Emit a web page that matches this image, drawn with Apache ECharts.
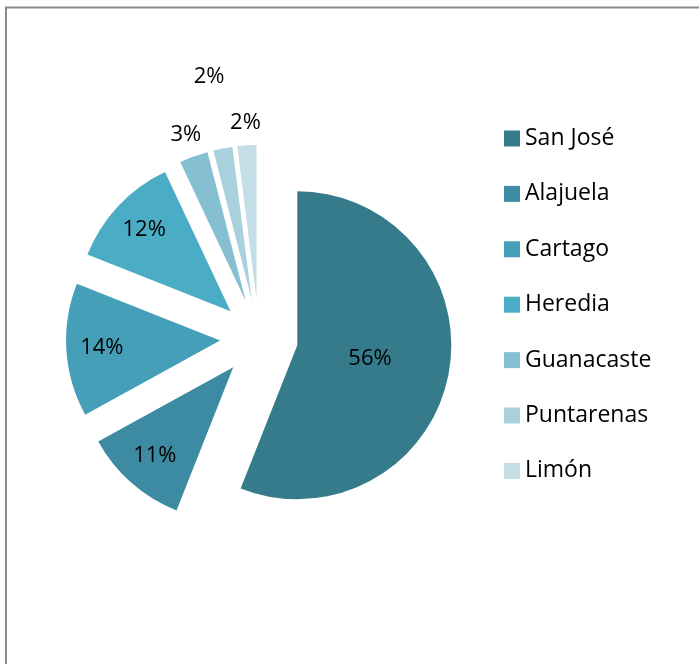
<!DOCTYPE html>
<html>
<head>
<meta charset="utf-8">
<script src="https://cdn.jsdelivr.net/npm/echarts@6/dist/echarts.min.js"></script>
<style>
  html, body { margin: 0; padding: 0; background: #fff; }
  #chart { width: 699px; height: 664px; }
</style>
</head>
<body>
<div id="chart"></div>
<script>
// Share of records by province (percent)
const provinces = ['San José', 'Alajuela', 'Cartago', 'Heredia', 'Guanacaste', 'Puntarenas', 'Limón'];
const shares = [56, 11, 14, 12, 3, 2, 2];
const colors = ['#357B8B', '#3C8BA2', '#459FB8', '#4BACC6', '#86BFD1', '#A8D0DD', '#C3DEE6'];

// Which ring each slice label sits in
const labelRing = ['core', 'mid', 'mid', 'mid', 'near', 'far', 'near'];

const FONT = '"Open Sans", "Noto Sans", sans-serif';
const CENTER = [259, 338];
const R = 154;
const EXPLODE = 39;

const labelStyle = {
  color: '#000',
  fontFamily: FONT,
  fontSize: 22,
  formatter: '{c}%'
};

// Visible pie, or a transparent ring that only carries labels for one group
function pieSeries(radius, ring, visible) {
  return {
    type: 'pie',
    center: CENTER,
    radius: radius,
    startAngle: 90,
    clockwise: true,
    selectedMode: 'multiple',
    selectedOffset: EXPLODE,
    avoidLabelOverlap: false,
    silent: !visible,
    label: Object.assign({ position: 'inside' }, labelStyle),
    labelLine: { show: false },
    emphasis: { disabled: true },
    select: { itemStyle: { borderWidth: 0 } },
    data: provinces.map((name, i) => ({
      name: name,
      value: shares[i],
      selected: true,
      itemStyle: {
        color: visible ? colors[i] : 'rgba(0,0,0,0)',
        borderWidth: 0
      },
      label: { show: labelRing[i] === ring }
    }))
  };
}

const chart = echarts.init(document.getElementById('chart'), null, { renderer: 'canvas' });
chart.setOption({
  animation: false,
  backgroundColor: '#fff',
  graphic: [{
    type: 'rect',
    shape: { x: 6, y: 7.5, width: 720, height: 700 },
    style: { fill: 'none', stroke: '#8c8c8c', lineWidth: 2 },
    silent: true
  }],
  legend: {
    orient: 'vertical',
    left: 504,
    top: 127,
    padding: 0,
    icon: 'rect',
    itemWidth: 16,
    itemHeight: 16,
    itemGap: 32.4,
    data: provinces,
    selectedMode: false,
    textStyle: { color: '#000', fontFamily: FONT, fontSize: 23, lineHeight: 23 }
  },
  series: [
    pieSeries([0, R], 'none', true),
    pieSeries([0, 142], 'core', false),
    pieSeries([R / 2, R], 'mid', false),
    pieSeries([R, R + 40], 'near', false),
    pieSeries([R, R + 140], 'far', false)
  ]
});
</script>
</body>
</html>
